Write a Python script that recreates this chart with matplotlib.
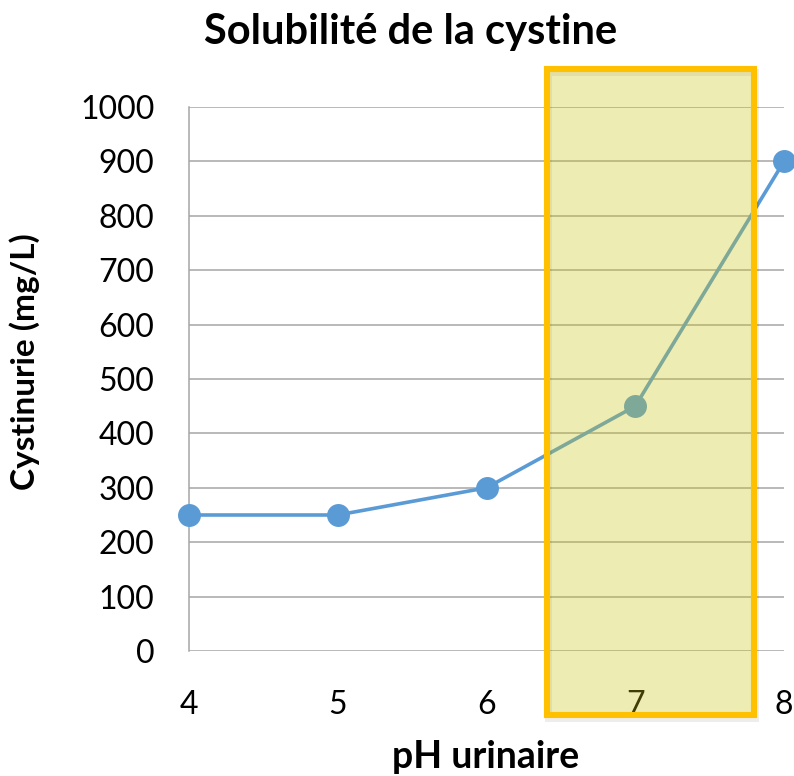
import matplotlib
matplotlib.use("Agg")
import matplotlib.pyplot as plt
from matplotlib.patches import Rectangle

ph = [4, 5, 6, 7, 8]
cystine = [250, 250, 300, 450, 900]
yticks = [0, 100, 200, 300, 400, 500, 600, 700, 800, 900, 1000]
zone_x = (6.41, 7.8)
zone_y = (-118, 1070)

plt.rcParams['font.family'] = ['Lato', 'DejaVu Sans']

fig = plt.figure(figsize=(7.94, 7.76), dpi=100)
ax = fig.add_axes([189/794, 1-651/776, 595/794, 544/776])

ax.plot(ph, cystine, color='#5b9bd5', lw=2.6, marker='o', markersize=15.5,
        clip_on=False, zorder=3)

ax.set_xlim(4, 8)
ax.set_ylim(0, 1000)
ax.set_xticks(ph)
ax.set_yticks(yticks)
ax.tick_params(axis='both', length=0, labelsize=23)
ax.tick_params(axis='y', pad=25)
ax.tick_params(axis='x', pad=28)
ax.yaxis.grid(True, color='#a6a6a6', lw=1.1)
ax.set_axisbelow(True)
for s in ['top', 'right', 'bottom']:
    ax.spines[s].set_visible(False)
ax.spines['left'].set_color('#a6a6a6')
ax.spines['left'].set_linewidth(1.1)

# subtle shadow
sh = Rectangle((zone_x[0] + 0.006, zone_y[0] - 5), zone_x[1] - zone_x[0], zone_y[1] - zone_y[0],
               facecolor='none', edgecolor='#000000', alpha=0.07, lw=5, clip_on=False, zorder=4)
ax.add_patch(sh)
rect = Rectangle((zone_x[0], zone_y[0]), zone_x[1] - zone_x[0], zone_y[1] - zone_y[0],
                 facecolor=(202/255, 196/255, 20/255, 0.32), edgecolor='#ffc000',
                 lw=4.4, clip_on=False, zorder=5)
ax.add_patch(rect)

fig.text(411/794, 1-32/776, 'Solubilité de la cystine', ha='center', va='center',
         fontsize=30, fontweight='bold')
fig.text(25/794, 1-362/776, 'Cystinurie (mg/L)', ha='center', va='center',
         rotation=90, fontsize=24, fontweight='bold')
fig.text(486/794, 1-757/776, 'pH urinaire', ha='center', va='center',
         fontsize=27, fontweight='bold')

fig.savefig('out.png', dpi=100)
